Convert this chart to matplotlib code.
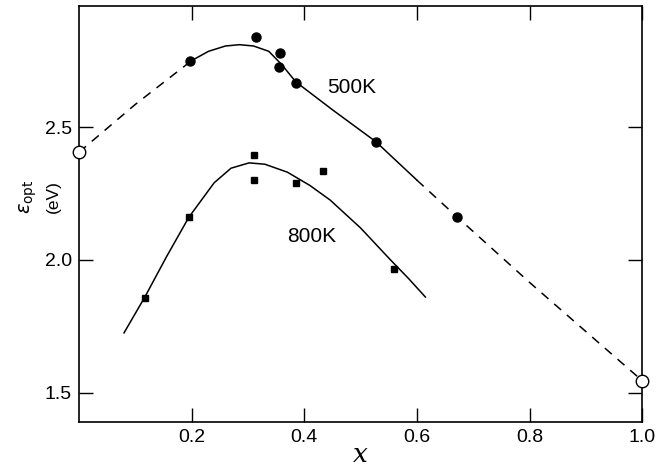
import numpy as np
import matplotlib
matplotlib.use("Agg")
import matplotlib.pyplot as plt

plt.rcParams['font.family'] = ['Liberation Sans', 'DejaVu Sans']

# measured points, 500K (filled circles)
x_500 = [0.197, 0.315, 0.357, 0.355, 0.385, 0.527, 0.672]
y_500 = [2.75, 2.84, 2.78, 2.725, 2.665, 2.445, 2.16]
# end points (open circles)
x_end = [0.0, 1.0]
y_end = [2.405, 1.545]
# measured points, 800K (filled squares)
x_800 = [0.117, 0.195, 0.31, 0.31, 0.386, 0.434, 0.56]
y_800 = [1.857, 2.16, 2.395, 2.30, 2.29, 2.335, 1.966]

# curves
c500_dash1_x = [0.0, 0.1, 0.2]
c500_dash1_y = [2.405, 2.585, 2.75]
c500_solid_x = [0.2, 0.23, 0.26, 0.285, 0.31, 0.337, 0.36, 0.385, 0.45, 0.527, 0.6]
c500_solid_y = [2.75, 2.785, 2.805, 2.81, 2.805, 2.785, 2.735, 2.67, 2.565, 2.445, 2.30]
c500_dash2_x = [0.6, 0.672, 0.8, 0.9, 1.0]
c500_dash2_y = [2.30, 2.16, 1.915, 1.73, 1.545]
c800_x = [0.08, 0.117, 0.155, 0.195, 0.24, 0.27, 0.302, 0.33, 0.37, 0.41, 0.446, 0.5, 0.553, 0.585, 0.615]
c800_y = [1.725, 1.86, 2.01, 2.16, 2.29, 2.345, 2.365, 2.36, 2.33, 2.28, 2.225, 2.12, 2.0, 1.93, 1.86]

fig = plt.figure(figsize=(6.58, 4.74), dpi=100)
ax = fig.add_axes([0.12, 0.11, 0.856, 0.877])

ax.plot(c500_dash1_x, c500_dash1_y, color='black', lw=1.1, ls=(0, (6, 5)))
ax.plot(c500_solid_x, c500_solid_y, color='black', lw=1.1)
ax.plot(c500_dash2_x, c500_dash2_y, color='black', lw=1.1, ls=(0, (6, 5)))
ax.plot(c800_x, c800_y, color='black', lw=1.1)

ax.plot(x_500, y_500, 'o', color='black', ms=6.5)
ax.plot(x_800, y_800, 's', color='black', ms=5)
ax.plot(x_end, y_end, 'o', mfc='white', mec='black', ms=9, mew=1.0, clip_on=False, zorder=5)

ax.text(0.44, 2.647, '500K', fontsize=15, va='center', ha='left')
ax.text(0.37, 2.086, '800K', fontsize=15, va='center', ha='left')

ax.set_xlim(0.0, 1.0)
ax.set_ylim(1.39, 2.955)
ax.set_xticks([0.2, 0.4, 0.6, 0.8, 1.0])
ax.set_xticklabels(['0.2', '0.4', '0.6', '0.8', '1.0'])
ax.set_yticks([1.5, 2.0, 2.5])
ax.set_yticklabels(['1.5', '2.0', '2.5'])
ax.tick_params(direction='in', length=10, width=1.0, labelsize=14, top=True, right=True, pad=5)
for s in ax.spines.values():
    s.set_linewidth(1.2)

ax.set_xlabel('x', fontsize=19, family='DejaVu Serif', style='italic', labelpad=-3)
# y label: two columns as in the original
fig.text(28 / 658, 1 - 197 / 474, '$\\epsilon_{\\rm opt}$', fontsize=14, rotation=90, ha='center', va='center')
fig.text(53 / 658, 1 - 197 / 474, '(eV)', fontsize=12.5, rotation=90, ha='center', va='center')

fig.savefig('out.png', dpi=100)
